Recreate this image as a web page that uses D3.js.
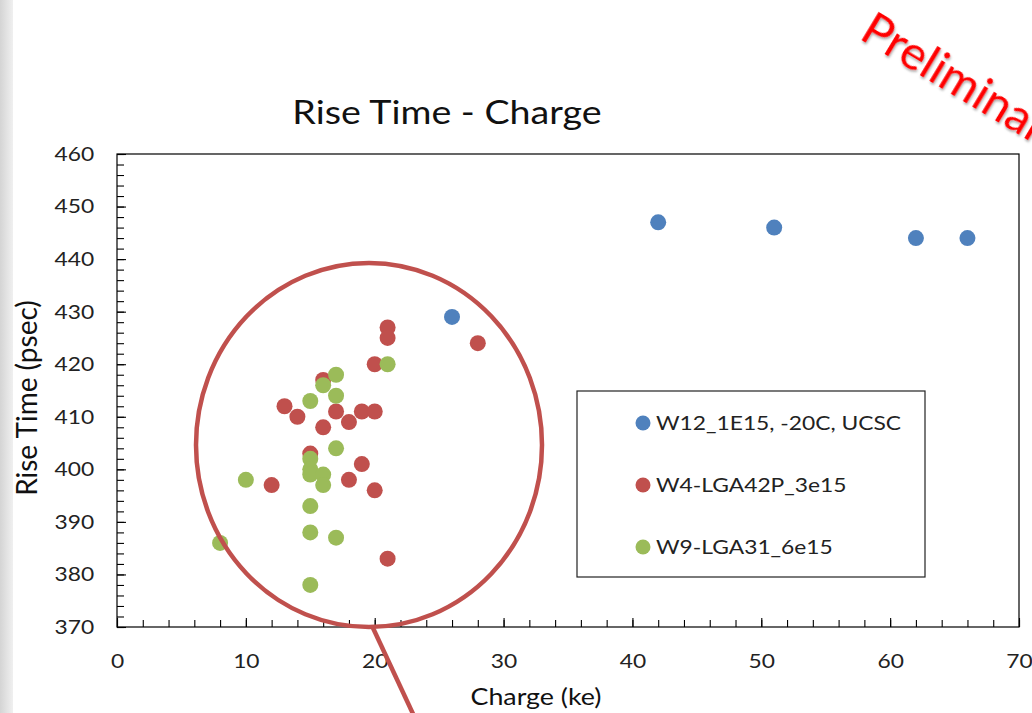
<!DOCTYPE html>
<html>
<head>
<meta charset="utf-8">
<script src="https://cdn.jsdelivr.net/npm/d3@7"></script>
<style>
  html, body { margin: 0; padding: 0; background: #fff; }
  svg { display: block; font-family: Lato, "Open Sans", sans-serif; }
</style>
</head>
<body>
<div id="chart"></div>
<script>
// series: W12_1E15, -20C, UCSC
var blueX = [26, 42, 51, 62, 66];
var blueY = [429, 447, 446, 444, 444];
// series: W4-LGA42P_3e15
var redX = [21, 21, 20, 16, 13, 14, 17, 19, 20, 18, 16, 15, 19, 12, 18, 20, 21, 28];
var redY = [427, 425, 420, 417, 412, 410, 411, 411, 411, 409, 408, 403, 401, 397, 398, 396, 383, 424];
// series: W9-LGA31_6e15
var greenX = [21, 17, 16, 17, 15, 17, 15, 15, 15, 16, 16, 10, 15, 15, 17, 8, 15];
var greenY = [420, 418, 416, 414, 413, 404, 402, 400, 399, 399, 397, 398, 393, 388, 387, 386, 378];

var seriesNames = ["W12_1E15, -20C, UCSC", "W4-LGA42P_3e15", "W9-LGA31_6e15"];
var seriesColors = ["#4f81bd", "#c0504d", "#9bbb59"];
var xTicks = [0, 10, 20, 30, 40, 50, 60, 70];
var yTicks = [370, 380, 390, 400, 410, 420, 430, 440, 450, 460];

var width = 1032, height = 713;
var margin = {left: 117, top: 154, right: 1019, bottom: 627};
var stretch = " scale(1.14,1)";   // the slide text is a bit wide

var svg = d3.select("#chart").append("svg")
    .attr("width", width)
    .attr("height", height);

// grey slide edge on the left
var defs = svg.append("defs");
var grad = defs.append("linearGradient").attr("id", "edge")
    .attr("x1", 0).attr("x2", 1).attr("y1", 0).attr("y2", 0);
grad.append("stop").attr("offset", "0%").attr("stop-color", "#d4d4d4");
grad.append("stop").attr("offset", "100%").attr("stop-color", "#f0f0f0");
svg.append("rect").attr("x", 0).attr("y", 0).attr("width", 13).attr("height", height)
    .attr("fill", "url(#edge)");

var shadow = defs.append("filter").attr("id", "shadow")
    .attr("x", "-10%").attr("y", "-10%").attr("width", "130%").attr("height", "130%");
shadow.append("feDropShadow").attr("dx", 1.5).attr("dy", 1.5).attr("stdDeviation", 1)
    .attr("flood-color", "#000").attr("flood-opacity", 0.35);

var x = d3.scaleLinear().domain([0, 70]).range([margin.left, margin.right]);
var y = d3.scaleLinear().domain([370, 460]).range([margin.bottom, margin.top]);

// plot frame
svg.append("rect")
    .attr("x", margin.left).attr("y", margin.top)
    .attr("width", margin.right - margin.left)
    .attr("height", margin.bottom - margin.top)
    .attr("fill", "none").attr("stroke", "#000").attr("stroke-width", 1.2);

// x axis, ticks pointing inward
var xMinor = d3.range(0, 71, 2);
svg.append("g")
    .attr("transform", "translate(0," + margin.bottom + ")")
    .call(d3.axisBottom(x).tickValues(xMinor).tickSize(-7).tickFormat(""))
    .call(function (g) { g.select(".domain").remove(); });
svg.append("g")
    .attr("transform", "translate(0," + margin.bottom + ")")
    .call(d3.axisBottom(x).tickValues(xTicks).tickSize(-9).tickPadding(27).tickFormat(d3.format("d")))
    .call(function (g) {
        g.select(".domain").remove();
        g.selectAll("text").attr("font-size", 20).attr("fill", "#222")
            .attr("font-family", "Lato, sans-serif")
            .attr("transform", stretch);
    });

// y axis
var yMinor = d3.range(370, 461, 2);
svg.append("g")
    .attr("transform", "translate(" + margin.left + ",0)")
    .call(d3.axisLeft(y).tickValues(yMinor).tickSize(-7).tickFormat(""))
    .call(function (g) { g.select(".domain").remove(); });
svg.append("g")
    .attr("transform", "translate(" + margin.left + ",0)")
    .call(d3.axisLeft(y).tickValues(yTicks).tickSize(-9).tickPadding(20).tickFormat(d3.format("d")))
    .call(function (g) {
        g.select(".domain").remove();
        g.selectAll("text").attr("font-size", 20).attr("fill", "#222")
            .attr("font-family", "Lato, sans-serif")
            .attr("transform", stretch);
    });
svg.selectAll(".tick line").attr("stroke", "#000").attr("stroke-width", 1.1);

// points
var series = [
    {x: blueX, y: blueY},
    {x: redX, y: redY},
    {x: greenX, y: greenY}
];
series.forEach(function (s, i) {
    svg.append("g").selectAll("circle")
        .data(s.x.map(function (d, j) { return [d, s.y[j]]; }))
        .enter().append("circle")
        .attr("cx", function (d) { return x(d[0]); })
        .attr("cy", function (d) { return y(d[1]); })
        .attr("r", 8)
        .attr("fill", seriesColors[i]);
});

// legend
var legend = svg.append("g");
legend.append("rect")
    .attr("x", 577).attr("y", 391).attr("width", 348).attr("height", 186)
    .attr("fill", "#fff").attr("stroke", "#222").attr("stroke-width", 1.2);
seriesNames.forEach(function (name, i) {
    var ly = 423 + i * 62;
    legend.append("circle").attr("cx", 643).attr("cy", ly).attr("r", 7.5)
        .attr("fill", seriesColors[i]);
    legend.append("text")
        .attr("transform", "translate(656," + (ly + 7) + ")" + stretch)
        .attr("font-size", 20).attr("fill", "#222").text(name);
});

// titles
svg.append("text")
    .attr("transform", "translate(447,124)" + stretch)
    .attr("text-anchor", "middle").attr("font-size", 33).attr("fill", "#111")
    .text("Rise Time - Charge");
svg.append("text")
    .attr("transform", "translate(536,705)" + stretch)
    .attr("text-anchor", "middle").attr("font-size", 23.5).attr("fill", "#111")
    .text("Charge (ke)");
svg.append("text")
    .attr("transform", "translate(37,398) rotate(-90)")
    .attr("text-anchor", "middle").attr("font-size", 28).attr("fill", "#111")
    .text("Rise Time (psec)");

// highlight ring with pointer
svg.append("ellipse")
    .attr("cx", 369).attr("cy", 445).attr("rx", 173).attr("ry", 182)
    .attr("fill", "none").attr("stroke", "#c0504d").attr("stroke-width", 4.5);
svg.append("line")
    .attr("x1", 373).attr("y1", 628).attr("x2", 414).attr("y2", 716)
    .attr("stroke", "#c0504d").attr("stroke-width", 4.5);

// stamp
svg.append("text")
    .attr("transform", "translate(858,38) rotate(31)")
    .attr("font-size", 47).attr("fill", "#ff0000")
    .attr("filter", "url(#shadow)")
    .text("Preliminary");
</script>
</body>
</html>
